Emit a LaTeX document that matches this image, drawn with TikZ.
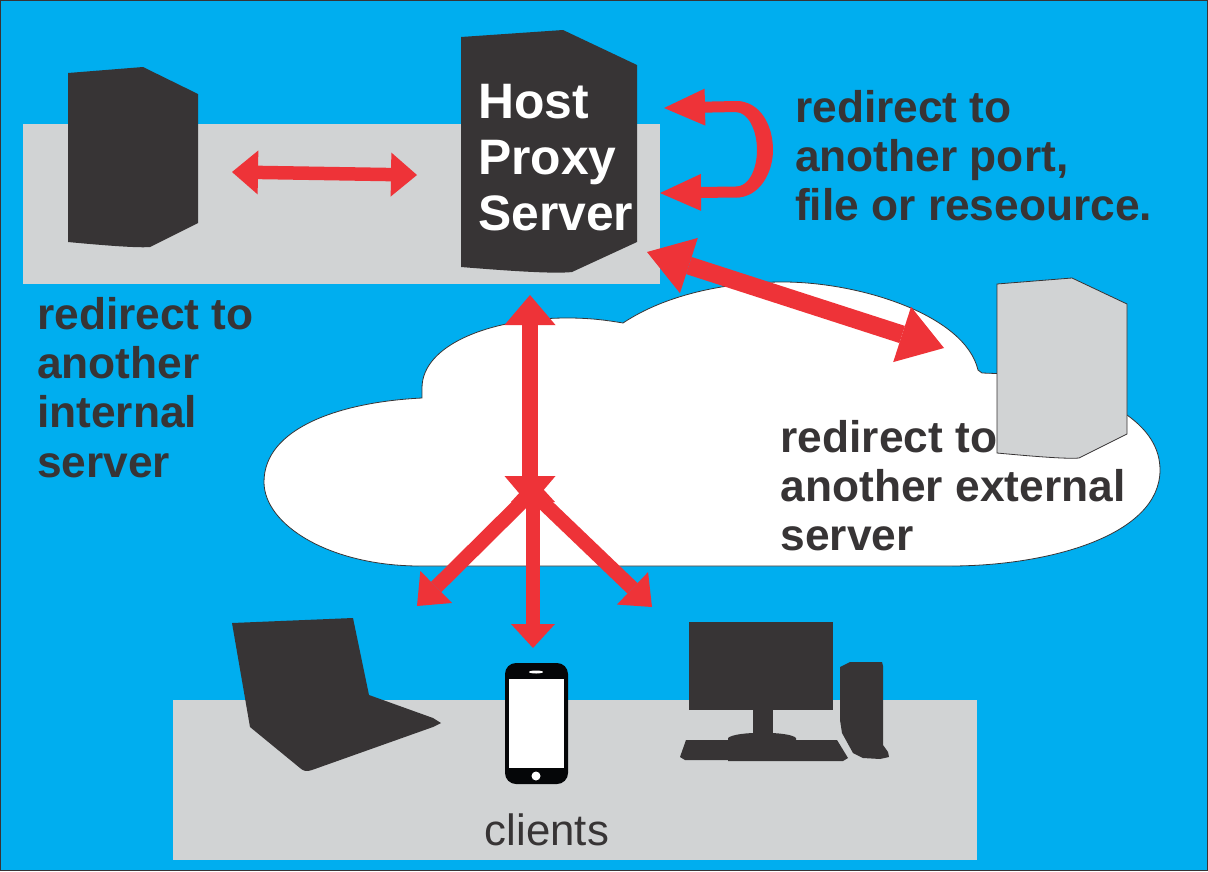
\documentclass[tikz,border=0pt]{standalone}
\usepackage{fontspec}
\setmainfont{Liberation Sans}
\usetikzlibrary{arrows.meta}
\definecolor{skyblue}{HTML}{00AEEF}
\definecolor{panelgray}{HTML}{D1D3D4}
\definecolor{boxdark}{HTML}{373435}
\definecolor{arrowred}{HTML}{EE3338}
\definecolor{phoneblack}{HTML}{050608}
\tikzset{
  redarrow/.style n args={3}{draw=arrowred,line width=#1,>={Triangle[length=#2,width=#3,line width=0pt]}},
  notetext/.style={align=left,inner sep=0pt,anchor=north west,text=boxdark,font=\bfseries\fontsize{44.3}{49.3}\selectfont},
  hosttext/.style={align=left,inner sep=0pt,anchor=north west,text=white,font=\bfseries\fontsize{49.8}{56}\selectfont},
  panel/.style={fill=panelgray},
  darkshape/.style={fill=boxdark}
}
\begin{document}
\begin{tikzpicture}[x=1pt,y=-1pt]
\useasboundingbox (0,0) rectangle (1208,871);
\draw[fill=skyblue,draw=boxdark,line width=1.5pt] (0.5,0.5) rectangle (1207.5,870.5);
\fill[panel] (23,124) rectangle (660,284);
\fill[panel] (173,700) rectangle (977,860);
\draw[fill=white,draw=boxdark,line width=0.8pt] (422,398) -- (422,388) .. controls (422,345) and (490,318) .. (567,318)
  .. controls (590,318) and (605,320) .. (623,323) .. controls (665,295) and (725,282) .. (783,282)
  .. controls (860,282) and (965,315) .. (978,370) -- (982,373) -- (1010,374) -- (1127,415)
  .. controls (1148,430) and (1160,448) .. (1160,470) .. controls (1160,535) and (1050,566) .. (950,566)
  -- (420,566) .. controls (330,566) and (264,525) .. (264,482) .. controls (264,428) and (340,402) .. (422,398) -- cycle;
\fill[darkshape] (68,73) -- (143,67) -- (198,94) -- (198,223) -- (150,247) .. controls (140,248) and (110,246) .. (68,242) -- cycle;
\fill[darkshape] (461,37) -- (563,30) -- (637,65) -- (637,242) -- (572,272) .. controls (555,274) and (510,271) .. (461,267) -- cycle;
\draw[fill=panelgray,draw=boxdark,line width=0.8pt] (997,284) -- (1072,278) -- (1127,304) -- (1127,434) -- (1079,458) .. controls (1068,459) and (1040,457) .. (997,453) -- cycle;
\fill[darkshape] (232,623) -- (353,618) -- (369,695) -- (433,718) -- (441,723) -- (433,727) -- (312,770) .. controls (307,772) and (303,771) .. (300,768) -- (250,727) -- cycle;
\fill[phoneblack,rounded corners=11pt] (505,663) rectangle (568,784);
\fill[white] (509,679) rectangle (564,768);
\fill[white] (536,672) ellipse (7 and 1.5);
\fill[white] (536,776) circle (4.5);
\fill[darkshape] (689,622) rectangle (833,710);
\fill[darkshape] (753,710) rectangle (773,736);
\fill[darkshape] (728,738) .. controls (735,731) and (790,731) .. (796,738) -- (796,740) -- (837,740) -- (848,758) -- (843,761) -- (728,761) -- (728,760) -- (685,760) -- (680,757) -- (686,740) -- (728,740) -- cycle;
\fill[darkshape] (840,667) -- (850,662) -- (882,662) -- (883,666) -- (883,745) -- (888,752) -- (889,757) -- (880,759) -- (863,758) -- (853,753) -- (842,733) -- (840,720) -- cycle;
\node[hosttext] (hostlabel) at (478,84) {Host\\Proxy\\Server};
\node[notetext] (portlabel) at (795,90) {redirect to\\another port,\\file or reseource.};
\node[notetext] (internallabel) at (37,297) {redirect to\\another\\internal\\server};
\node[notetext] (externallabel) at (780.5,420) {redirect to\\another external\\server};
\node[anchor=base,inner sep=0pt,text=boxdark,font=\fontsize{43.8}{49.3}\selectfont] (clientslabel) at (547,845) {clients};
\coordinate (internalend) at (232,172);
\coordinate (hostend) at (417,175);
\coordinate (loopa) at (664,108);
\coordinate (loopb) at (660,193);
\coordinate (wanhost) at (647,252);
\coordinate (wanext) at (944,348);
\coordinate (uptip) at (530,295);
\coordinate (junction) at (530,506);
\coordinate (fork) at (533,478);
\coordinate (forkl) at (532,492);
\coordinate (laptoptip) at (417,606);
\coordinate (phonetip) at (533,648);
\coordinate (desktoptip) at (652,607);
\draw[redarrow={13.5pt}{26pt}{44pt},<->] (internalend) -- (hostend);
\fill[arrowred] (736,101) .. controls (760,101) and (773,125) .. (773,150) .. controls (773,172) and (760,197.5) .. (736,197.5) -- (736,187) .. controls (748,187) and (757,170) .. (757,150) .. controls (757,130) and (748,112) .. (736,112) -- cycle;
\draw[redarrow={11pt}{41pt}{37pt},<->] (loopa) -- (736,106.5) .. controls (752,106.5) and (765,128) .. (765,150) .. controls (765,172) and (752,192) .. (736,192) -- (loopb);
\draw[redarrow={18pt}{44pt}{58pt},<->] (wanhost) -- (wanext);
\draw[redarrow={15.5pt}{30pt}{51pt},<->] (uptip) -- (junction);
\draw[redarrow={14pt}{24pt}{44pt},<->] (fork) -- (phonetip);
\draw[redarrow={14.5pt}{27pt}{45pt},->] (forkl) -- (laptoptip);
\draw[redarrow={14.5pt}{27pt}{45pt},->] (forkl) -- (desktoptip);
\end{tikzpicture}
\end{document}
